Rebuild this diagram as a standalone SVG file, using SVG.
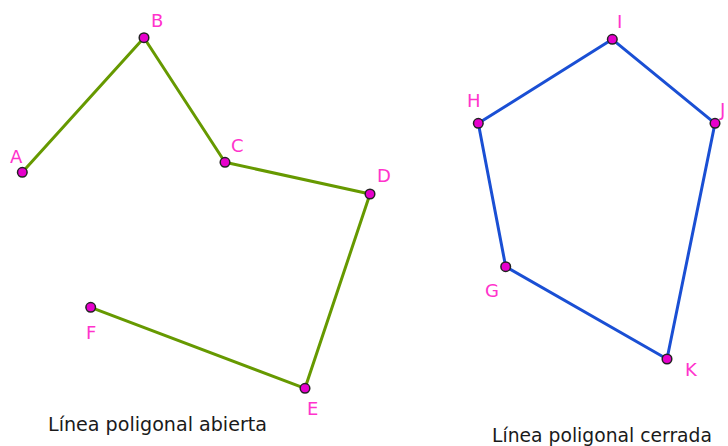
<svg xmlns="http://www.w3.org/2000/svg" width="728" height="446" viewBox="0 0 728 446">
<style>
.open{fill:none;stroke:#669900;stroke-width:3;stroke-linejoin:round;stroke-linecap:round}
.closed{fill:none;stroke:#1a4fd4;stroke-width:3;stroke-linejoin:round}
.pt{fill:#e600cc;stroke:#222;stroke-width:1.5}
.lbl{font-family:"DejaVu Sans","Liberation Sans",sans-serif;font-size:18px;fill:#ff33cc}
.cap{font-family:"DejaVu Sans","Liberation Sans",sans-serif;font-size:19px;fill:#1a1a1a}
</style>
<rect width="728" height="446" fill="#ffffff"/>
<g id="connectors">
<polyline class="open" points="22.3,172.3 144,37.7 225,162.3 370,194 305,388.3 90.7,307.3"/>
<polygon class="closed" points="612.3,39.3 715,123.3 667,359 505.7,266.7 478.3,123.3"/>
</g>
<g id="A"><circle class="pt" cx="22.3" cy="172.3" r="4.8"/><text class="lbl" x="10" y="163">A</text></g>
<g id="B"><circle class="pt" cx="144" cy="37.7" r="4.8"/><text class="lbl" x="151" y="27">B</text></g>
<g id="C"><circle class="pt" cx="225" cy="162.3" r="4.8"/><text class="lbl" x="231" y="152">C</text></g>
<g id="D"><circle class="pt" cx="370" cy="194" r="4.8"/><text class="lbl" x="377" y="182">D</text></g>
<g id="E"><circle class="pt" cx="305" cy="388.3" r="4.8"/><text class="lbl" x="307" y="415">E</text></g>
<g id="F"><circle class="pt" cx="90.7" cy="307.3" r="4.8"/><text class="lbl" x="86" y="339">F</text></g>
<g id="I"><circle class="pt" cx="612.3" cy="39.3" r="4.8"/><text class="lbl" x="617" y="28">I</text></g>
<g id="J"><circle class="pt" cx="715" cy="123.3" r="4.8"/><text class="lbl" x="720" y="116">J</text></g>
<g id="K"><circle class="pt" cx="667" cy="359" r="4.8"/><text class="lbl" x="685" y="376">K</text></g>
<g id="G"><circle class="pt" cx="505.7" cy="266.7" r="4.8"/><text class="lbl" x="485" y="297">G</text></g>
<g id="H"><circle class="pt" cx="478.3" cy="123.3" r="4.8"/><text class="lbl" x="467" y="107">H</text></g>
<text class="cap" x="48" y="431" textLength="219" lengthAdjust="spacingAndGlyphs">Línea poligonal abierta</text>
<text class="cap" x="492" y="442" textLength="220" lengthAdjust="spacingAndGlyphs">Línea poligonal cerrada</text>
</svg>
